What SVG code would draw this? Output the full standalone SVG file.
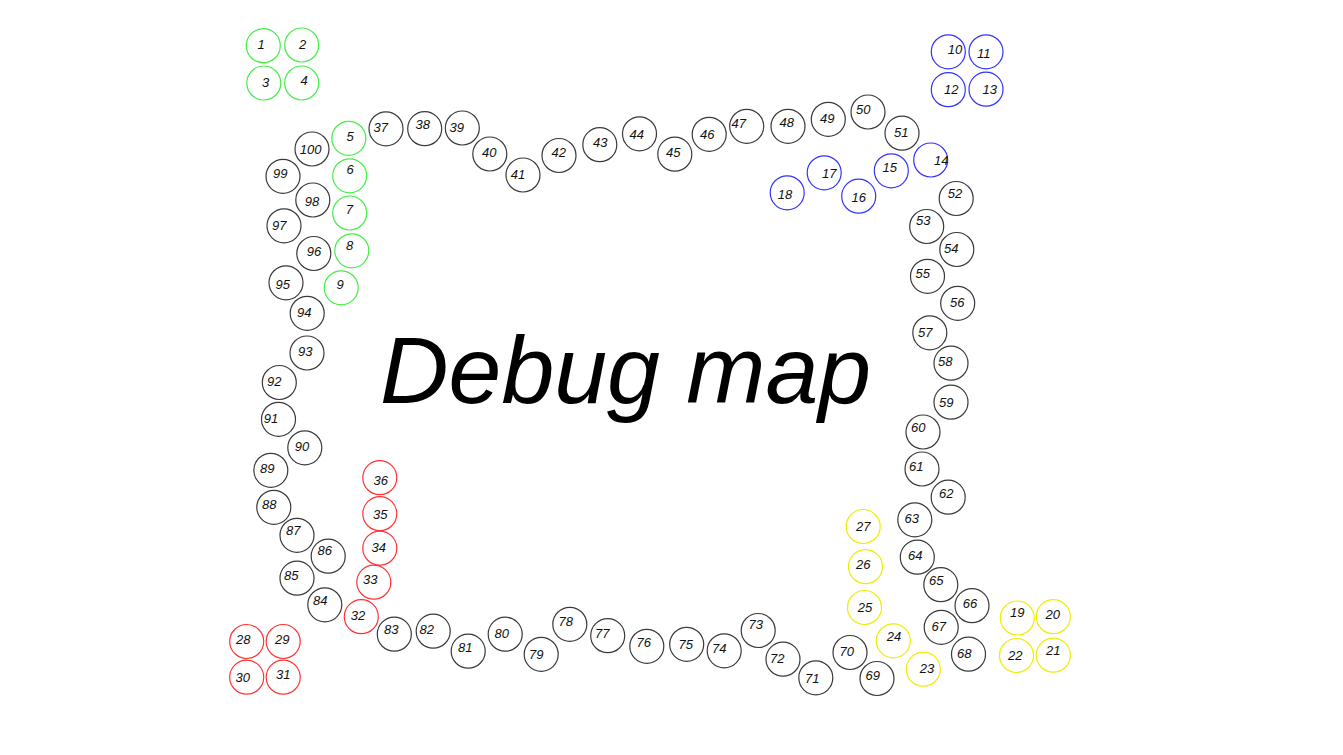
<svg xmlns="http://www.w3.org/2000/svg" width="1343" height="755" viewBox="0 0 1343 755">
<style>
circle{fill:none;stroke-width:1.2}
.k circle{stroke:#3a3a3a}
.g circle{stroke:#44ee44}
.b circle{stroke:#3333ff}
.r circle{stroke:#ff3333}
.y circle{stroke:#eeee00}
text{font-family:"Liberation Sans",Arial,sans-serif;font-style:italic;font-size:13px;fill:#111;text-anchor:middle}
.title{font-size:95px;fill:#000;text-anchor:start}
</style>
<rect width="1343" height="755" fill="#fff"/>
<text class="title" x="380" y="403">Debug map</text>
<g id="nodes">
<g id="n1" class="g"><circle cx="263.3" cy="45.7" r="17"/><text x="261" y="48.7">1</text></g>
<g id="n2" class="g"><circle cx="301.7" cy="45" r="17"/><text x="302.7" y="48.7">2</text></g>
<g id="n3" class="g"><circle cx="263.8" cy="83" r="17"/><text x="265.7" y="87.4">3</text></g>
<g id="n4" class="g"><circle cx="301.7" cy="83" r="17"/><text x="304" y="85.4">4</text></g>
<g id="n5" class="g"><circle cx="348.8" cy="138.3" r="17"/><text x="350" y="140.7">5</text></g>
<g id="n6" class="g"><circle cx="349.7" cy="175.8" r="17"/><text x="350" y="173.7">6</text></g>
<g id="n7" class="g"><circle cx="349.7" cy="213" r="17"/><text x="349.3" y="214">7</text></g>
<g id="n8" class="g"><circle cx="351.8" cy="250.8" r="17"/><text x="349.7" y="250">8</text></g>
<g id="n9" class="g"><circle cx="341.2" cy="287.8" r="17"/><text x="340" y="289">9</text></g>
<g id="n10" class="b"><circle cx="948.3" cy="51.8" r="17"/><text x="955" y="54">10</text></g>
<g id="n11" class="b"><circle cx="986" cy="51.8" r="17"/><text x="983.7" y="58">11</text></g>
<g id="n12" class="b"><circle cx="948.3" cy="89.7" r="17"/><text x="951.3" y="94">12</text></g>
<g id="n13" class="b"><circle cx="986" cy="89.2" r="17"/><text x="989.7" y="94">13</text></g>
<g id="n14" class="b"><circle cx="930.7" cy="160" r="17"/><text x="941.3" y="165.4">14</text></g>
<g id="n15" class="b"><circle cx="891.3" cy="170.8" r="17"/><text x="889.7" y="172.4">15</text></g>
<g id="n16" class="b"><circle cx="858.7" cy="196.2" r="17"/><text x="858.7" y="201.7">16</text></g>
<g id="n17" class="b"><circle cx="824.2" cy="172.8" r="17"/><text x="829.3" y="177.7">17</text></g>
<g id="n18" class="b"><circle cx="787.2" cy="192.8" r="17"/><text x="785" y="199.4">18</text></g>
<g id="n19" class="y"><circle cx="1017.3" cy="618" r="17"/><text x="1017.3" y="617.4">19</text></g>
<g id="n20" class="y"><circle cx="1053.3" cy="616.7" r="17"/><text x="1052.7" y="619">20</text></g>
<g id="n21" class="y"><circle cx="1053.3" cy="655.2" r="17"/><text x="1053.3" y="655.4">21</text></g>
<g id="n22" class="y"><circle cx="1016.5" cy="655.5" r="17"/><text x="1015.3" y="659.7">22</text></g>
<g id="n23" class="y"><circle cx="923.3" cy="669.2" r="17"/><text x="927" y="673.4">23</text></g>
<g id="n24" class="y"><circle cx="893.3" cy="640.8" r="17"/><text x="894" y="641.4">24</text></g>
<g id="n25" class="y"><circle cx="864.5" cy="607.5" r="17"/><text x="865" y="612">25</text></g>
<g id="n26" class="y"><circle cx="865.5" cy="566.7" r="17"/><text x="863.3" y="568.7">26</text></g>
<g id="n27" class="y"><circle cx="863.2" cy="526.5" r="17"/><text x="863.3" y="531.4">27</text></g>
<g id="n28" class="r"><circle cx="246.7" cy="641.5" r="17"/><text x="243.3" y="644.4">28</text></g>
<g id="n29" class="r"><circle cx="283.2" cy="641.5" r="17"/><text x="282.3" y="644.4">29</text></g>
<g id="n30" class="r"><circle cx="246.7" cy="677.2" r="17"/><text x="242.7" y="682">30</text></g>
<g id="n31" class="r"><circle cx="283.2" cy="677.2" r="17"/><text x="283.3" y="679">31</text></g>
<g id="n32" class="r"><circle cx="361.3" cy="616.7" r="17"/><text x="358" y="620.4">32</text></g>
<g id="n33" class="r"><circle cx="373.8" cy="582.2" r="17"/><text x="370.3" y="584.4">33</text></g>
<g id="n34" class="r"><circle cx="379.8" cy="548.2" r="17"/><text x="378.7" y="551.7">34</text></g>
<g id="n35" class="r"><circle cx="379.8" cy="513.7" r="17"/><text x="380.3" y="519.4">35</text></g>
<g id="n36" class="r"><circle cx="379.8" cy="477.7" r="17"/><text x="380.7" y="484.7">36</text></g>
<g id="n37" class="k"><circle cx="386" cy="128.8" r="17"/><text x="380.7" y="131.7">37</text></g>
<g id="n38" class="k"><circle cx="424.7" cy="128.7" r="17"/><text x="422.7" y="129">38</text></g>
<g id="n39" class="k"><circle cx="462.3" cy="128" r="17"/><text x="456.7" y="132">39</text></g>
<g id="n40" class="k"><circle cx="489.8" cy="154" r="17"/><text x="489.3" y="157">40</text></g>
<g id="n41" class="k"><circle cx="523" cy="175" r="17"/><text x="518" y="178.7">41</text></g>
<g id="n42" class="k"><circle cx="559" cy="155.5" r="17"/><text x="558.7" y="157.4">42</text></g>
<g id="n43" class="k"><circle cx="599.8" cy="144.7" r="17"/><text x="600.3" y="147.4">43</text></g>
<g id="n44" class="k"><circle cx="639.5" cy="133.8" r="17"/><text x="636.7" y="138.7">44</text></g>
<g id="n45" class="k"><circle cx="674.8" cy="154.2" r="17"/><text x="673.3" y="156.7">45</text></g>
<g id="n46" class="k"><circle cx="709.2" cy="134.3" r="17"/><text x="707.3" y="138.7">46</text></g>
<g id="n47" class="k"><circle cx="746.7" cy="126.3" r="17"/><text x="738.7" y="128.4">47</text></g>
<g id="n48" class="k"><circle cx="788" cy="126.3" r="17"/><text x="786.7" y="126.7">48</text></g>
<g id="n49" class="k"><circle cx="828.3" cy="119.3" r="17"/><text x="827.3" y="123">49</text></g>
<g id="n50" class="k"><circle cx="868" cy="112" r="17"/><text x="863.3" y="114">50</text></g>
<g id="n51" class="k"><circle cx="902" cy="133.2" r="17"/><text x="901.3" y="137">51</text></g>
<g id="n52" class="k"><circle cx="956.2" cy="198.5" r="17"/><text x="955" y="198">52</text></g>
<g id="n53" class="k"><circle cx="926.7" cy="226.5" r="17"/><text x="923.3" y="224.7">53</text></g>
<g id="n54" class="k"><circle cx="956.8" cy="249.5" r="17"/><text x="951.3" y="253">54</text></g>
<g id="n55" class="k"><circle cx="927.5" cy="276.3" r="17"/><text x="922.7" y="278">55</text></g>
<g id="n56" class="k"><circle cx="957.7" cy="303.3" r="17"/><text x="957.3" y="307.4">56</text></g>
<g id="n57" class="k"><circle cx="929.8" cy="332.8" r="17"/><text x="925.3" y="336.7">57</text></g>
<g id="n58" class="k"><circle cx="951" cy="363.2" r="17"/><text x="945.3" y="366">58</text></g>
<g id="n59" class="k"><circle cx="951" cy="402.2" r="17"/><text x="946.3" y="407">59</text></g>
<g id="n60" class="k"><circle cx="923" cy="432" r="17"/><text x="918.3" y="432">60</text></g>
<g id="n61" class="k"><circle cx="922" cy="469" r="17"/><text x="916.3" y="471.4">61</text></g>
<g id="n62" class="k"><circle cx="948.2" cy="497.2" r="17"/><text x="946.3" y="498">62</text></g>
<g id="n63" class="k"><circle cx="914.8" cy="519.8" r="17"/><text x="911.7" y="523">63</text></g>
<g id="n64" class="k"><circle cx="917.3" cy="557.2" r="17"/><text x="915.3" y="559.7">64</text></g>
<g id="n65" class="k"><circle cx="940.8" cy="584.7" r="17"/><text x="936.3" y="585.4">65</text></g>
<g id="n66" class="k"><circle cx="972" cy="605.7" r="17"/><text x="970" y="608">66</text></g>
<g id="n67" class="k"><circle cx="941.2" cy="627.3" r="17"/><text x="938.7" y="630.7">67</text></g>
<g id="n68" class="k"><circle cx="968.5" cy="654.2" r="17"/><text x="964.3" y="657.7">68</text></g>
<g id="n69" class="k"><circle cx="877" cy="678.5" r="17"/><text x="872.7" y="680">69</text></g>
<g id="n70" class="k"><circle cx="850" cy="652.5" r="17"/><text x="846.7" y="656">70</text></g>
<g id="n71" class="k"><circle cx="815.8" cy="677.8" r="17"/><text x="812.3" y="683.4">71</text></g>
<g id="n72" class="k"><circle cx="783" cy="659.2" r="17"/><text x="777.3" y="663">72</text></g>
<g id="n73" class="k"><circle cx="758.2" cy="630.5" r="17"/><text x="755.7" y="629.4">73</text></g>
<g id="n74" class="k"><circle cx="724.2" cy="650.8" r="17"/><text x="719.3" y="652.7">74</text></g>
<g id="n75" class="k"><circle cx="686.7" cy="644.3" r="17"/><text x="685.7" y="648.7">75</text></g>
<g id="n76" class="k"><circle cx="646.8" cy="646.3" r="17"/><text x="643.7" y="647.4">76</text></g>
<g id="n77" class="k"><circle cx="607.7" cy="635.7" r="17"/><text x="602.3" y="637.7">77</text></g>
<g id="n78" class="k"><circle cx="569.8" cy="624.3" r="17"/><text x="565.7" y="625.7">78</text></g>
<g id="n79" class="k"><circle cx="541.2" cy="654.3" r="17"/><text x="536.3" y="658.7">79</text></g>
<g id="n80" class="k"><circle cx="505.2" cy="634.2" r="17"/><text x="501.7" y="637.7">80</text></g>
<g id="n81" class="k"><circle cx="468.2" cy="651.2" r="17"/><text x="465.3" y="652">81</text></g>
<g id="n82" class="k"><circle cx="433.2" cy="631.2" r="17"/><text x="426.7" y="634">82</text></g>
<g id="n83" class="k"><circle cx="394.3" cy="634.2" r="17"/><text x="391.3" y="634">83</text></g>
<g id="n84" class="k"><circle cx="324.8" cy="604.8" r="17"/><text x="320.3" y="605.4">84</text></g>
<g id="n85" class="k"><circle cx="297" cy="578.2" r="17"/><text x="291.3" y="580">85</text></g>
<g id="n86" class="k"><circle cx="328.2" cy="556.2" r="17"/><text x="324.7" y="554.7">86</text></g>
<g id="n87" class="k"><circle cx="297" cy="535.3" r="17"/><text x="293.3" y="534.7">87</text></g>
<g id="n88" class="k"><circle cx="273.8" cy="507.3" r="17"/><text x="269.3" y="509">88</text></g>
<g id="n89" class="k"><circle cx="270.8" cy="470.3" r="17"/><text x="267.3" y="473">89</text></g>
<g id="n90" class="k"><circle cx="304.8" cy="447.8" r="17"/><text x="302" y="450.7">90</text></g>
<g id="n91" class="k"><circle cx="278.5" cy="419.3" r="17"/><text x="271" y="423">91</text></g>
<g id="n92" class="k"><circle cx="279.3" cy="382.5" r="17"/><text x="274.3" y="385.7">92</text></g>
<g id="n93" class="k"><circle cx="307" cy="353" r="17"/><text x="305.3" y="356.4">93</text></g>
<g id="n94" class="k"><circle cx="307.2" cy="313.3" r="17"/><text x="304.3" y="317.4">94</text></g>
<g id="n95" class="k"><circle cx="286" cy="282.8" r="17"/><text x="282.7" y="288.7">95</text></g>
<g id="n96" class="k"><circle cx="313.8" cy="253.5" r="17"/><text x="314" y="255.7">96</text></g>
<g id="n97" class="k"><circle cx="284" cy="225.8" r="17"/><text x="279.3" y="229.7">97</text></g>
<g id="n98" class="k"><circle cx="312.8" cy="200" r="17"/><text x="312" y="205.7">98</text></g>
<g id="n99" class="k"><circle cx="283" cy="176.3" r="17"/><text x="280.3" y="178">99</text></g>
<g id="n100" class="k"><circle cx="312" cy="149" r="17"/><text x="310.7" y="153.7">100</text></g>
</g>
</svg>
